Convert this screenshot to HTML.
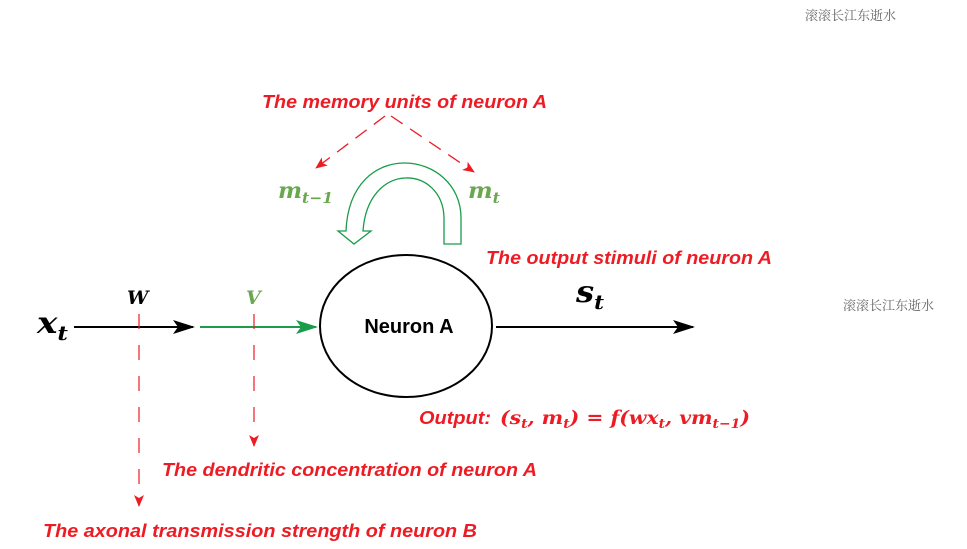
<!DOCTYPE html>
<html><head><meta charset="utf-8"><style>
html,body{margin:0;padding:0;background:#fff;}
svg{display:block;}
.red{fill:#ed1c24;font-family:"Liberation Sans",sans-serif;font-weight:bold;font-style:italic;font-size:18px;}
.m{font-family:"DejaVu Serif","Liberation Serif",serif;font-weight:bold;font-style:italic;}
.wm{font-family:"Liberation Serif","Noto Serif CJK SC",serif;font-size:13px;fill:#666;}
</style></head><body>
<svg width="967" height="549" viewBox="0 0 967 549" xmlns="http://www.w3.org/2000/svg">
<defs>
<marker id="ab" markerWidth="22" markerHeight="14" refX="20" refY="7" orient="auto" markerUnits="userSpaceOnUse"><path d="M0,0 L22,7 L0,14 L5,7 Z" fill="#000"/></marker>
<marker id="ag" markerWidth="22" markerHeight="14" refX="20" refY="7" orient="auto" markerUnits="userSpaceOnUse"><path d="M0,0 L22,7 L0,14 L5,7 Z" fill="#1a9c4a"/></marker>
<marker id="ar" markerWidth="12" markerHeight="10" refX="11" refY="5" orient="auto" markerUnits="userSpaceOnUse"><path d="M0,0 L12,5 L0,10 L3,5 Z" fill="#ed1c24"/></marker>
</defs>
<text class="wm" x="805" y="20">滚滚长江东逝水</text>
<text class="wm" x="843" y="310">滚滚长江东逝水</text>

<text class="red" x="262" y="108" textLength="285" lengthAdjust="spacingAndGlyphs">The memory units of neuron A</text>
<path d="M385,116 L316,168" stroke="#ed1c24" stroke-width="1.3" stroke-dasharray="14,9" fill="none" marker-end="url(#ar)"/>
<path d="M391,116 L474,172" stroke="#ed1c24" stroke-width="1.3" stroke-dasharray="14,9" fill="none" marker-end="url(#ar)"/>

<text class="m" x="278" y="198" font-size="22" fill="#6aa84f" textLength="55" lengthAdjust="spacingAndGlyphs">m<tspan font-size="15" dy="5">t−1</tspan></text>
<text class="m" x="468" y="198" font-size="22" fill="#6aa84f" textLength="32" lengthAdjust="spacingAndGlyphs">m<tspan font-size="15" dy="5">t</tspan></text>

<path d="M461,244 L461,218 C461,150 350,135 346,231 L338,231 L354,244 L371,231 L363,231 C368,160 443,165 444,218 L444,244 Z" fill="#fff" stroke="#1a9c4a" stroke-width="1.3"/>

<text class="red" x="486" y="264" textLength="286" lengthAdjust="spacingAndGlyphs">The output stimuli of neuron A</text>

<ellipse cx="406" cy="326" rx="86" ry="71" fill="#fff" stroke="#000" stroke-width="2"/>
<text x="409" y="333" text-anchor="middle" font-family="Liberation Sans,sans-serif" font-weight="bold" font-size="20">Neuron A</text>

<text class="m" x="37" y="333" font-size="30" textLength="31" lengthAdjust="spacingAndGlyphs">x<tspan font-size="20" dy="7">t</tspan></text>
<text class="m" x="127" y="304" font-size="19">W</text>
<text class="m" x="246" y="304" font-size="19" fill="#6aa84f">V</text>
<line x1="74" y1="327" x2="193" y2="327" stroke="#000" stroke-width="2" marker-end="url(#ab)"/>
<line x1="200" y1="327" x2="316" y2="327" stroke="#1a9c4a" stroke-width="2" marker-end="url(#ag)"/>

<line x1="139" y1="314" x2="139" y2="506" stroke="#ed1c24" stroke-width="1.2" stroke-dasharray="15,16" marker-end="url(#ar)"/>
<line x1="254" y1="314" x2="254" y2="446" stroke="#ed1c24" stroke-width="1.2" stroke-dasharray="15,16" marker-end="url(#ar)"/>

<text class="m" x="576" y="302" font-size="30" textLength="28" lengthAdjust="spacingAndGlyphs">s<tspan font-size="20" dy="7">t</tspan></text>
<line x1="496" y1="327" x2="693" y2="327" stroke="#000" stroke-width="2" marker-end="url(#ab)"/>

<text class="red" x="419" y="424" font-size="20" textLength="72" lengthAdjust="spacingAndGlyphs">Output:</text>
<text class="m" x="500" y="424" font-size="19" fill="#ed1c24" textLength="250" lengthAdjust="spacingAndGlyphs">(s<tspan font-size="13" dy="4">t</tspan><tspan dy="-4">, m</tspan><tspan font-size="13" dy="4">t</tspan><tspan dy="-4">) = f(wx</tspan><tspan font-size="13" dy="4">t</tspan><tspan dy="-4">, vm</tspan><tspan font-size="13" dy="4">t−1</tspan><tspan dy="-4">)</tspan></text>

<text class="red" x="162" y="476" textLength="375" lengthAdjust="spacingAndGlyphs">The dendritic concentration of neuron A</text>
<text class="red" x="43" y="537" textLength="434" lengthAdjust="spacingAndGlyphs">The axonal transmission strength of neuron B</text>
</svg>
</body></html>
